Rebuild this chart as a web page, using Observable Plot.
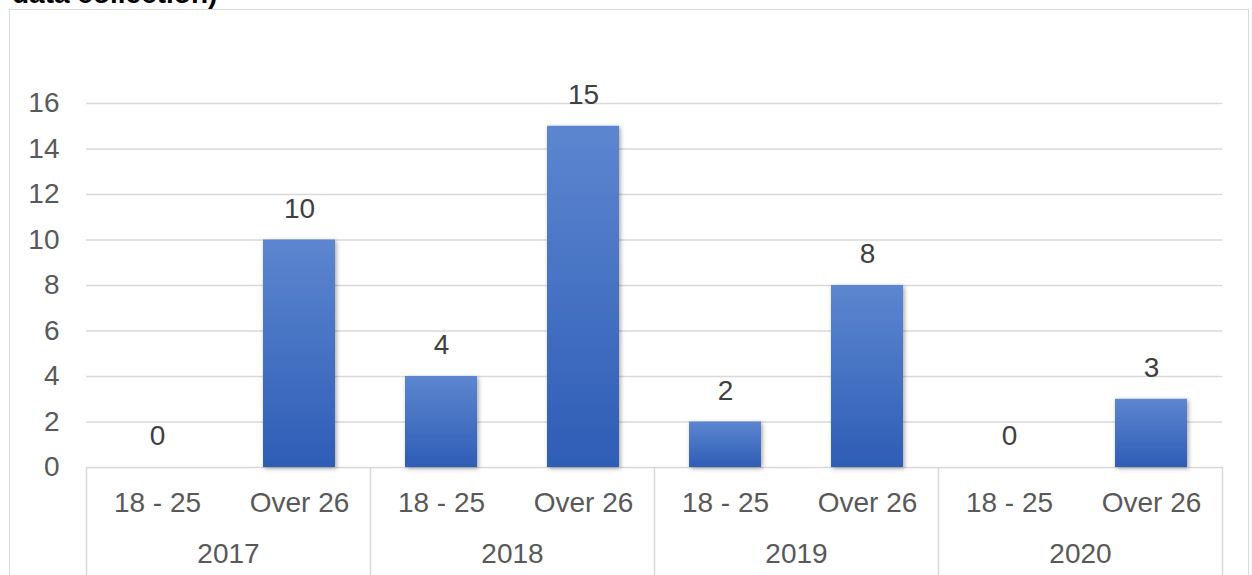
<!DOCTYPE html>
<html>
<head>
<meta charset="utf-8">
<script src="https://cdn.jsdelivr.net/npm/d3@7"></script>
<script src="https://cdn.jsdelivr.net/npm/@observablehq/plot@0.6"></script>
<style>
  html, body { margin: 0; padding: 0; background: #fff; width: 1252px; height: 575px; overflow: hidden; font-family: "Liberation Sans", Arial, sans-serif; }
  #wrap { position: relative; width: 1252px; height: 575px; }
  #title { position: absolute; left: 12px; top: -20px; font-size: 28px; line-height: 28px; font-weight: bold; color: #000; white-space: nowrap; }
  #border { position: absolute; left: 9px; top: 9px; width: 1240px; height: 620px; border: 1.5px solid #d9d9d9; box-sizing: border-box; }
  #chart { position: absolute; left: 0; top: 0; }
</style>
</head>
<body>
<div id="wrap">
  <div id="title">data collection)</div>
  <div id="border"></div>
  <div id="chart"></div>
</div>
<script>
const years = ["2017", "2018", "2019", "2020"];
const ages = ["18 - 25", "Over 26"];
const values = [0, 10, 4, 15, 2, 8, 0, 3];
const yTicks = [0, 2, 4, 6, 8, 10, 12, 14, 16];

const data = values.map((v, i) => ({
  i,
  year: years[Math.floor(i / ages.length)],
  age: ages[i % ages.length],
  value: v
}));
const groups = years.map((y, j) => ({ year: y, start: j * ages.length, end: (j + 1) * ages.length }));
const separators = [0, ...groups.map(g => g.end)];

const font = "'Liberation Sans', Arial, sans-serif";

const defs = () => {
  const d = d3.create("svg:defs");
  const g = d.append("linearGradient").attr("id", "barGrad").attr("x1", 0).attr("y1", 0).attr("x2", 0).attr("y2", 1);
  g.append("stop").attr("offset", "0%").attr("stop-color", "#5d86d0");
  g.append("stop").attr("offset", "100%").attr("stop-color", "#2e5db6");
  const f = d.append("filter").attr("id", "barShadow").attr("x", "-20%").attr("y", "-20%").attr("width", "140%").attr("height", "140%");
  f.append("feDropShadow").attr("dx", 1.5).attr("dy", 1.5).attr("stdDeviation", 2).attr("flood-color", "#000").attr("flood-opacity", 0.35);
  return d.node();
};

const chart = Plot.plot({
  width: 1252,
  height: 575,
  marginLeft: 86,
  marginRight: 30,
  marginTop: 103,
  marginBottom: 108,
  style: { background: "transparent", overflow: "visible", fontFamily: font },
  x: { type: "linear", domain: [0, values.length], axis: null },
  y: { domain: [0, 16], axis: null, label: null },
  marks: [
    defs,
    Plot.ruleY(yTicks, { stroke: "#d9d9d9", strokeWidth: 1.5 }),
    Plot.ruleX(separators, { y1: 0, y2: -4.9, stroke: "#d9d9d9", strokeWidth: 1.5, clip: false }),
    Plot.rectY(data, { x1: "i", x2: d => d.i + 1, y: "value", insetLeft: 35, insetRight: 35, fill: "url(#barGrad)", className: "bar" }),
    Plot.axisY({ ticks: yTicks, tickSize: 0, tickPadding: 27, fontSize: 28, fill: "#595959", label: null, tickFormat: d => String(d) }),
    Plot.text(data, { x: d => d.i + 0.5, y: "value", text: d => String(d.value), dy: -31, fontSize: 28, fill: "#404040" }),
    Plot.text(data, { x: d => d.i + 0.5, y: 0, text: "age", dy: 36, fontSize: 28, fill: "#595959" }),
    Plot.text(groups, { x: d => (d.start + d.end) / 2, y: 0, text: "year", dy: 87, fontSize: 28, fill: "#595959" })
  ]
});

d3.select(chart).selectAll("g.bar rect, g[aria-label='rect'] rect").attr("filter", "url(#barShadow)");
document.getElementById("chart").appendChild(chart);
</script>
</body>
</html>
